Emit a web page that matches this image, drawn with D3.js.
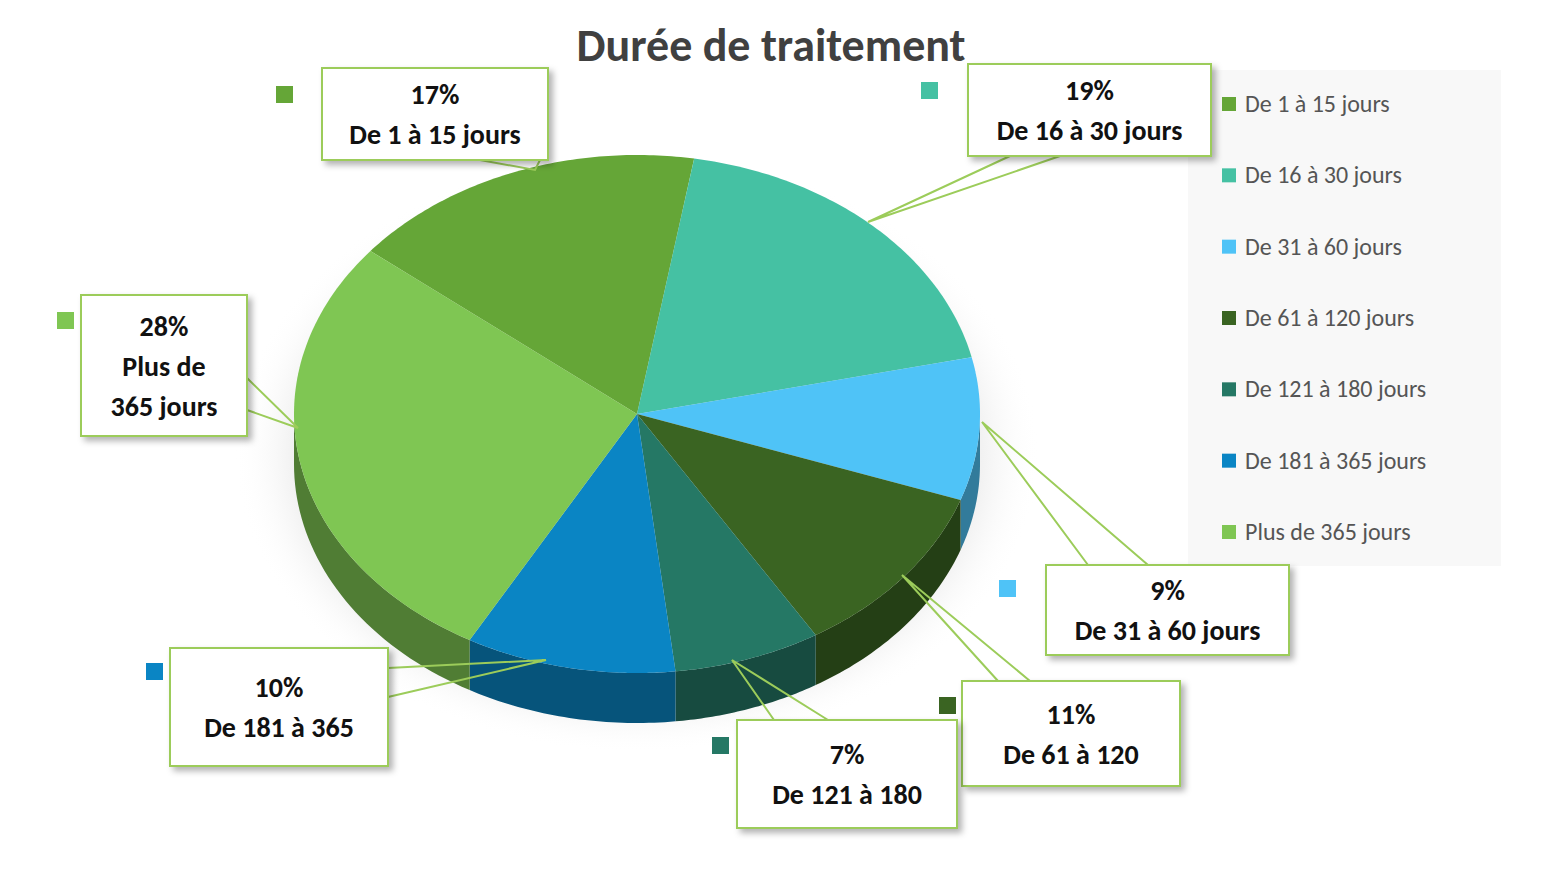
<!DOCTYPE html>
<html><head><meta charset="utf-8">
<script src="https://cdn.jsdelivr.net/npm/d3@7"></script>
<style>body{margin:0;background:#fff}svg{font-family:Calibri,Carlito,"Liberation Sans","Open Sans",sans-serif}</style>
</head><body>
<svg id="c" width="1541" height="874"></svg>
<script>
const categories=["De 1 à 15 jours","De 16 à 30 jours","De 31 à 60 jours","De 61 à 120 jours","De 121 à 180 jours","De 181 à 365 jours","Plus de 365 jours"];
const values=[17,19,9,11,7,10,28];
const colors=["#65a637","#45c1a3","#4fc3f7","#3a6422","#257865","#0a85c4","#7fc653"];
const labelLines=[["17%","De 1 à 15 jours"],["19%","De 16 à 30 jours"],["9%","De 31 à 60 jours"],["11%","De 61 à 120"],["7%","De 121 à 180"],["10%","De 181 à 365"],["28%","Plus de","365 jours"]];
const boxes=[[322,68,548,160],[968,64,1211,156],[1046,565,1289,655],[962,681,1180,786],[737,720,957,828],[170,648,388,766],[81,295,247,436]];
const markers=[[276,86],[921,82],[999,580],[939,697],[712,737],[146,663],[57,312]];
const leaders=[[[480,160],[535,170],[540,160]],[[1010,156],[868,222],[1060,156]],[[1088,565],[982,422],[1148,565]],[[998,681],[902,575],[1030,681]],[[774,720],[732,660],[828,720]],[[388,668],[546,660],[388,697]],[[247,378],[298,428],[247,410]]];

const svg=d3.select("#c");
const cx=637,cy=414,rx=343,ry=259,depth=50;
const start=-51*Math.PI/180;
const arcs=d3.pie().sort(null).value(d=>d).startAngle(start).endAngle(start+2*Math.PI)(values);
const pt=(a,dy=0)=>[cx+rx*Math.sin(a),cy-ry*Math.cos(a)+dy];
const defs=svg.append("defs");
const f=defs.append("filter").attr("id","sh").attr("x","-20%").attr("y","-20%").attr("width","150%").attr("height","150%");
f.append("feDropShadow").attr("dx",4).attr("dy",4).attr("stdDeviation",3).attr("flood-color","#000").attr("flood-opacity",0.3);
const gs=defs.append("radialGradient").attr("id","gl").attr("cx","50%").attr("cy","50%").attr("r","50%");
gs.append("stop").attr("offset","80%").attr("stop-color","#ccc").attr("stop-opacity",0.5);
gs.append("stop").attr("offset","100%").attr("stop-color","#fff").attr("stop-opacity",0);
svg.append("ellipse").attr("cx",cx).attr("cy",cy+40).attr("rx",rx+60).attr("ry",ry+40).attr("fill","url(#gl)");

// sides
const sides=svg.append("g");
arcs.forEach((d,i)=>{
  let a0=Math.max(d.startAngle,Math.PI/2),a1=Math.min(d.endAngle,3*Math.PI/2);
  // normalise into [pi/2,3pi/2] range considering wrap
  [[d.startAngle,d.endAngle],[d.startAngle+2*Math.PI,d.endAngle+2*Math.PI],[d.startAngle-2*Math.PI,d.endAngle-2*Math.PI]].forEach(([s,e])=>{
    const b0=Math.max(s,Math.PI/2),b1=Math.min(e,3*Math.PI/2);
    if(b1<=b0) return;
    const p=d3.path();const n=40;
    for(let k=0;k<=n;k++){const a=b0+(b1-b0)*k/n;const q=pt(a);k?p.lineTo(q[0],q[1]):p.moveTo(q[0],q[1]);}
    for(let k=n;k>=0;k--){const a=b0+(b1-b0)*k/n;const q=pt(a,depth);p.lineTo(q[0],q[1]);}
    p.closePath();
    sides.append("path").attr("d",p.toString()).attr("fill",d3.color(colors[i]).darker(1.3));
  });
});
// tops
arcs.forEach((d,i)=>{
  const p=d3.path();p.moveTo(cx,cy);const n=80;
  for(let k=0;k<=n;k++){const a=d.startAngle+(d.endAngle-d.startAngle)*k/n;const q=pt(a);p.lineTo(q[0],q[1]);}
  p.closePath();
  svg.append("path").attr("d",p.toString()).attr("fill",colors[i]);
});

svg.append("text").attr("x",771).attr("y",61).attr("text-anchor","middle").attr("font-size",46).attr("font-weight","bold").attr("fill","#404040").text("Durée de traitement");

// legend
svg.append("rect").attr("x",1188).attr("y",70).attr("width",313).attr("height",496).attr("fill","#f8f8f8");
const ly=d3.scalePoint().domain(categories).range([104,532]);
categories.forEach((c,i)=>{
  svg.append("rect").attr("x",1222).attr("y",ly(c)-7).attr("width",14).attr("height",14).attr("fill",colors[i]);
  svg.append("text").attr("x",1245).attr("y",ly(c)+8).attr("font-size",24).attr("fill","#555").text(c);
});

// callouts
boxes.forEach((b,i)=>{
  const L=leaders[i];
  svg.append("polyline").attr("points",L.map(p=>p.join(",")).join(" ")).attr("fill","none").attr("stroke","#9ccc5a").attr("stroke-width",2);
  svg.append("rect").attr("x",b[0]).attr("y",b[1]).attr("width",b[2]-b[0]).attr("height",b[3]-b[1]).attr("fill","#fff").attr("stroke","#9ccc5a").attr("stroke-width",2).attr("filter","url(#sh)");
  const lines=labelLines[i],mid=(b[1]+b[3])/2,lh=40;
  lines.forEach((t,k)=>{
    svg.append("text").attr("x",(b[0]+b[2])/2).attr("y",mid+(k-(lines.length-1)/2)*lh+10).attr("text-anchor","middle").attr("font-size",28).attr("font-weight","bold").attr("fill","#111").text(t);
  });
  svg.append("rect").attr("x",markers[i][0]).attr("y",markers[i][1]).attr("width",17).attr("height",17).attr("fill",colors[i]);
});
</script>
</body></html>
